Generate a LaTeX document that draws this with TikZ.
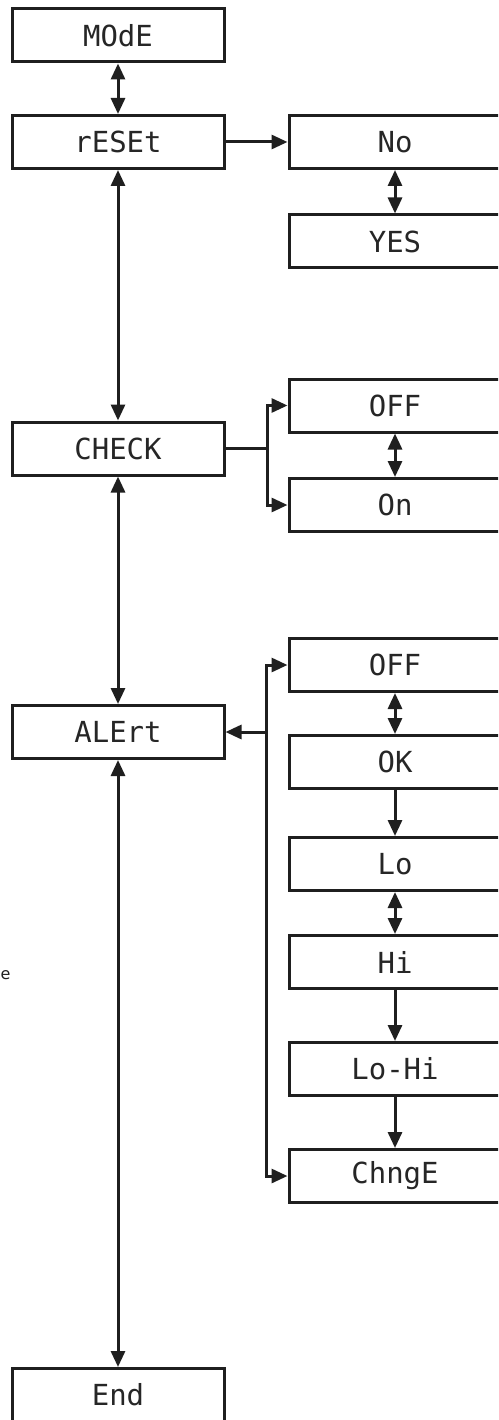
\documentclass[tikz,border=0pt]{standalone}
\usepackage{fontspec}
\setmainfont{DejaVu Sans}
\newfontfamily\lcdfont{DejaVu Sans Mono}
\usetikzlibrary{arrows.meta}
\begin{document}
\begin{tikzpicture}[x=1pt,y=-1pt,
  box/.style={draw=black!88,line width=3pt,minimum width=212pt,minimum height=53pt,inner sep=0pt,
    font=\lcdfont\fontsize{29}{31}\selectfont,text=black!85},
  conn/.style={draw=black!88,line width=3pt},
  arr/.style={conn,-{Triangle[length=16pt,width=14pt]}},
  darr/.style={conn,{Triangle[length=16pt,width=14pt]}-{Triangle[length=16pt,width=14pt]}}]
\useasboundingbox (0,0) rectangle (498,1420);
\fill[white] (0,0) rectangle (498,1420);
\clip (0,0) rectangle (498,1420);
% left column
\node[box] (mode) at (118,35.5) {MOdE};
\node[box] (reset) at (118,142) {rESEt};
\node[box] (check) at (118,448.5) {CHECK};
\node[box] (alert) at (118,732) {ALErt};
\node[box] (end) at (118,1395) {End};
% right column
\node[box] (no) at (395,142) {No};
\node[box] (yes) at (395,241.5) {YES};
\node[box] (offa) at (395,405.5) {OFF};
\node[box] (on) at (395,505) {On};
\node[box] (offb) at (395,665) {OFF};
\node[box] (ok) at (395,762) {OK};
\node[box] (lo) at (395,864) {Lo};
\node[box] (hi) at (395,962) {Hi};
\node[box] (lohi) at (395,1069) {Lo-Hi};
\node[box] (chnge) at (395,1176) {ChngE};
\node[anchor=west,inner sep=0pt,font=\fontsize{16}{18}\selectfont,text=black!88] (frag) at (0.5,975) {e};
% connectors
\draw[darr] (mode.south) -- (reset.north);
\draw[arr] (reset.east) -- (no.west);
\draw[darr] (no.south) -- (yes.north);
\draw[darr] (reset.south) -- (check.north);
\coordinate (b1) at (267,448.5);
\draw[conn] (check.east) -- (b1);
\draw[arr] (b1) |- (offa.west);
\draw[arr] (b1) |- (on.west);
\draw[darr] (offa.south) -- (on.north);
\draw[darr] (check.south) -- (alert.north);
\coordinate (b2) at (266,732);
\draw[arr] (b2) -- (alert.east);
\draw[arr] (b2) |- (offb.west);
\draw[arr] (b2) |- (chnge.west);
\draw[darr] (offb.south) -- (ok.north);
\draw[arr] (ok.south) -- (lo.north);
\draw[darr] (lo.south) -- (hi.north);
\draw[arr] (hi.south) -- (lohi.north);
\draw[arr] (lohi.south) -- (chnge.north);
\draw[darr] (alert.south) -- (end.north);
\end{tikzpicture}
\end{document}
